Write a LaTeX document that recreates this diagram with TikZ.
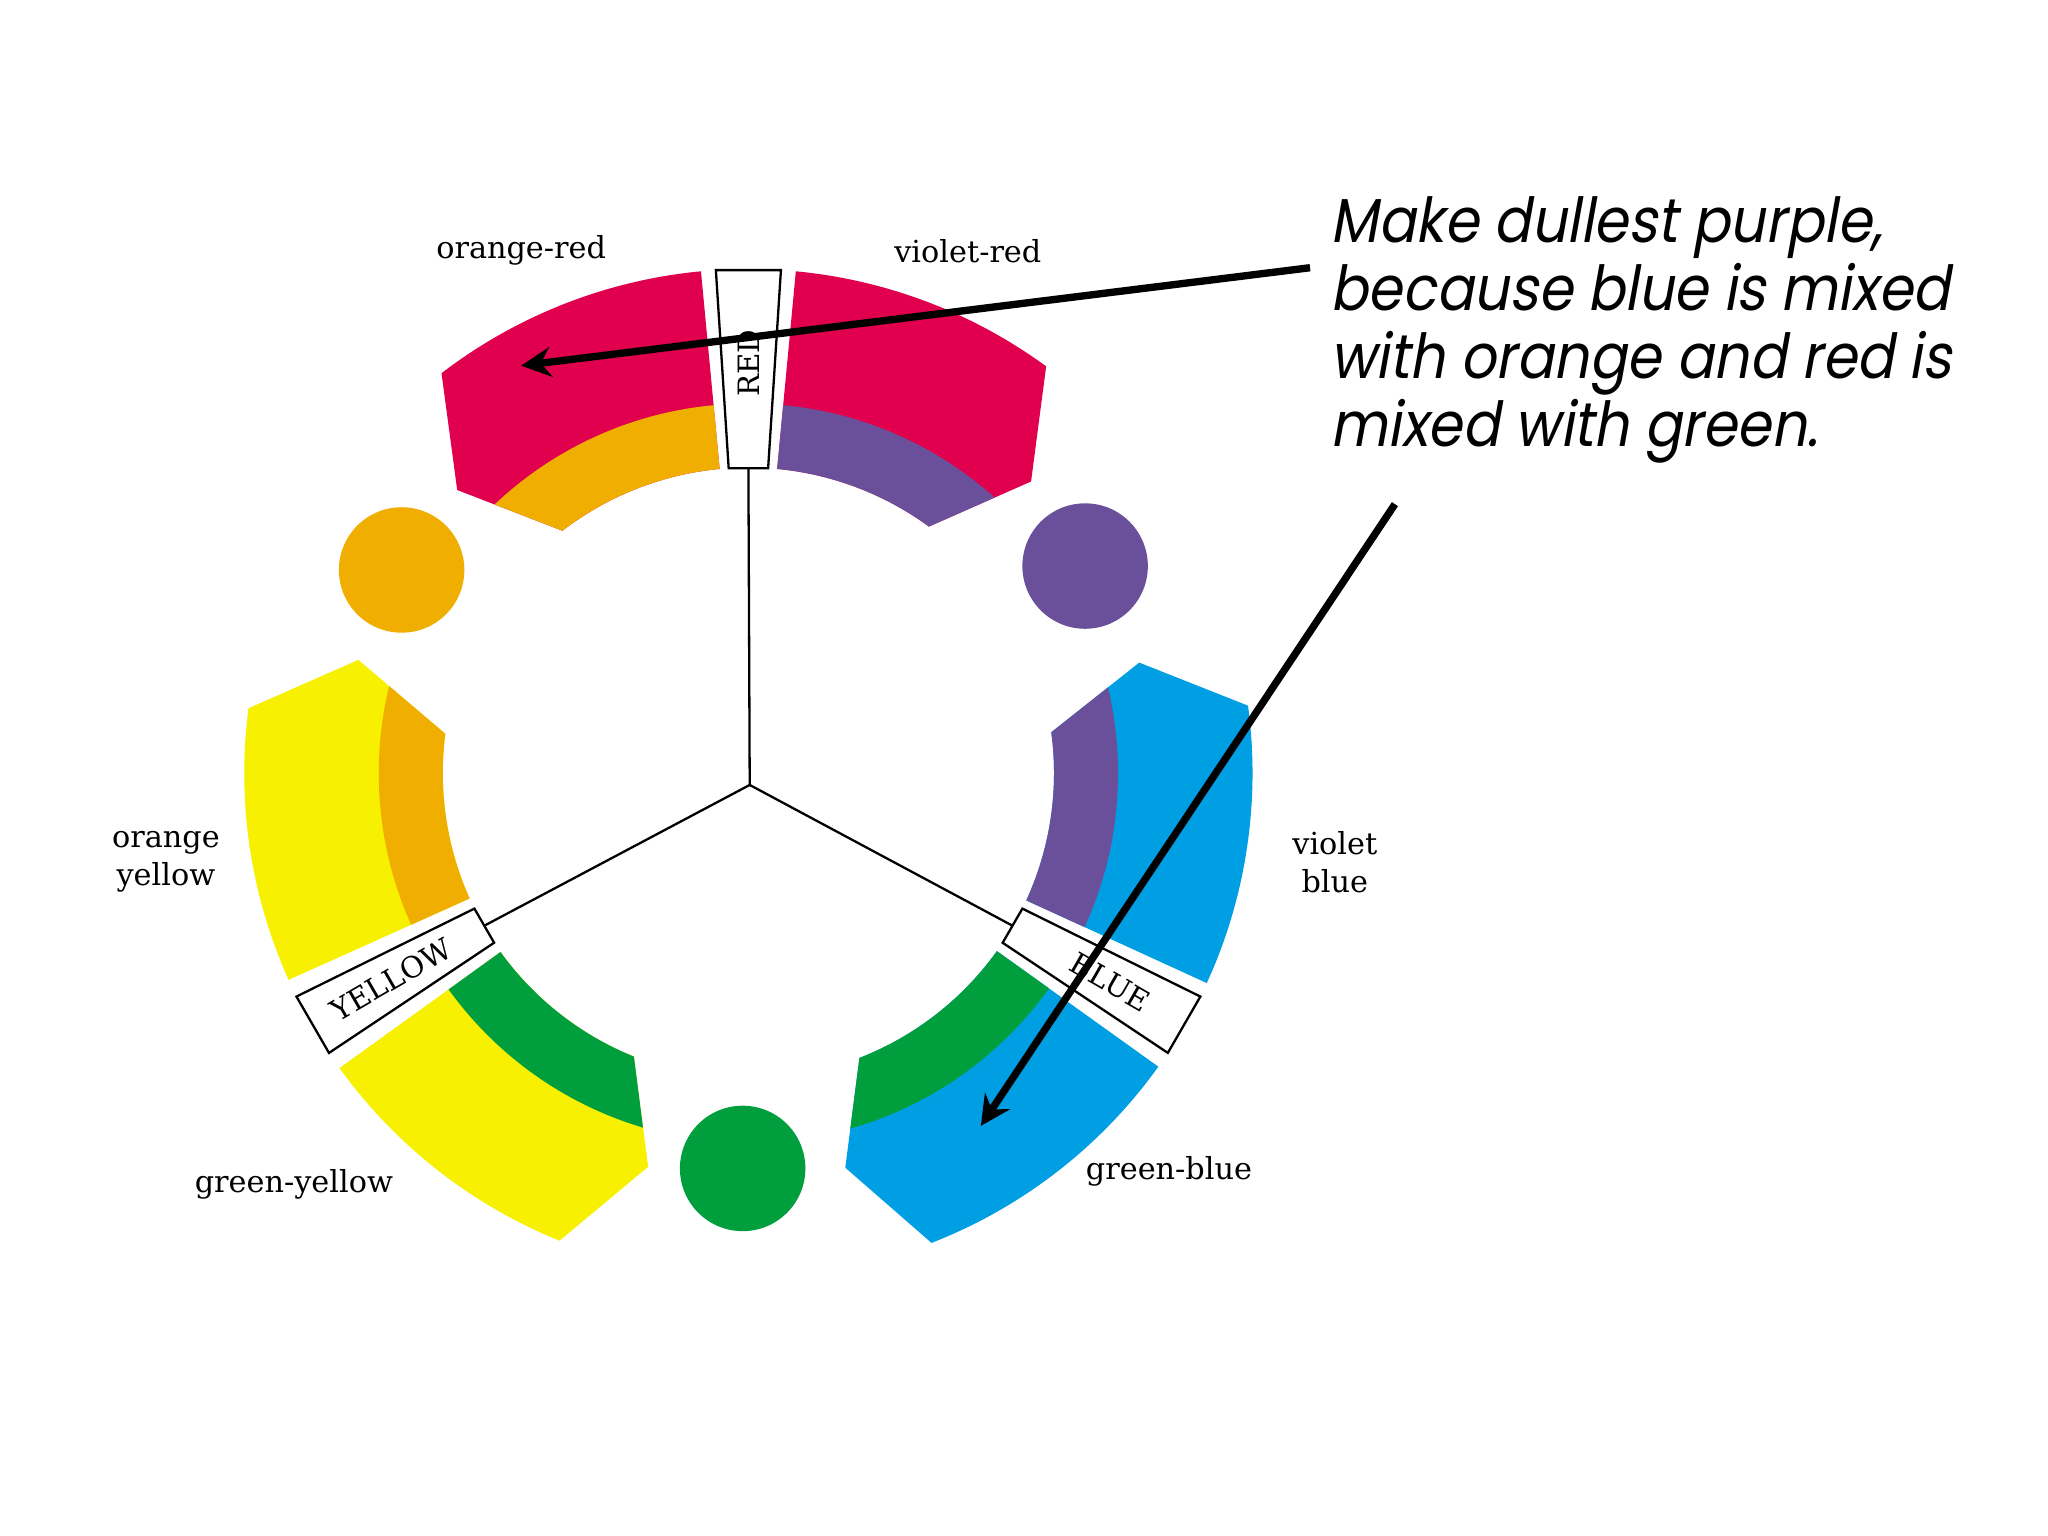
\documentclass[tikz,border=0pt]{standalone}
\usepackage{fontspec}
\setmainfont{DejaVu Serif}
\newfontfamily\gothic[FakeSlant=0.2]{Poppins}
\usetikzlibrary{arrows.meta}
\definecolor{cred}{RGB}{224,0,77}
\definecolor{corange}{RGB}{240,174,0}
\definecolor{cviolet}{RGB}{106,80,155}
\definecolor{cyellow}{RGB}{247,240,0}
\definecolor{cgreen}{RGB}{0,158,60}
\definecolor{cblue}{RGB}{0,159,227}
\newcommand\segpath[3]{(#1:386) arc[start angle=#1,end angle=#2,radius=386] -- (#3:311) -- (#2:234) arc[start angle=#2,end angle=#1,radius=234] -- cycle}
\newcommand\wedgebox[1]{({#1-3.7}:386) -- ({#1+3.7}:386) -- ({#1+3.7}:234) -- ({#1-3.7}:234) -- cycle}
\newcommand\seg[5]{%
  \fill[#4] \segpath{#1}{#2}{#3};
  \begin{scope}\clip \segpath{#1}{#2}{#3};
    \fill[#5] (0,0) circle[radius=283];
  \end{scope}}
\tikzset{
  lbl/.style={font=\fontsize{6.6}{8.3}\selectfont, align=center, inner sep=0},
  boxlbl/.style={font=\fontsize{6.4}{7.5}\selectfont, inner sep=0},
  boxshape/.style={draw=black, fill=white, line width=0.5pt},
  link/.style={draw=black, line width=0.5pt},
  note/.style={font=\gothic\fontsize{13.5}{15}\selectfont, anchor=base west, inner sep=0, xscale=0.895},
  pointer/.style={line width=1.6pt, -{Stealth[length=6.5pt,width=6.5pt,inset=2.2pt]}},
  dot/.style={circle, inner sep=0, minimum size=0.96cm}
}
\begin{document}
\begin{tikzpicture}[x=0.01cm,y=0.01cm]
\useasboundingbox (0,0) rectangle (1568,1176);
\fill[white] (0,0) rectangle (1568,1176);
\begin{scope}[shift={(573,584)}]
  % segments: gap angle, corner angle, apex angle, primary, secondary
  \seg{95.4}{127.5}{135.8}{cred}{corange}
  \seg{84.6}{53.8}{45.9}{cred}{cviolet}
  \seg{204.2}{172.6}{163.8}{cyellow}{corange}
  \seg{215.8}{248}{255.7}{cyellow}{cgreen}
  \seg{324.4}{291.3}{283.8}{cblue}{cgreen}
  \seg{-24.6}{7.7}{15.8}{cblue}{cviolet}
  % label boxes
  \path[boxshape] \wedgebox{90};
  \path[boxshape] \wedgebox{210};
  \path[boxshape] \wedgebox{330};
  \coordinate (redin) at (90:234);
  \coordinate (yellowin) at (210:234);
  \coordinate (bluein) at (330:234);
  \node[boxlbl, rotate=90] (redlbl) at (90:314) {RED};
  \node[boxlbl, rotate=30] (yellowlbl) at (210:316) {YELLOW};
  \node[boxlbl, rotate=-30] (bluelbl) at (330:320) {BLUE};
\end{scope}
\coordinate (J) at (574,575);
\draw[link] (J) -- (redin);
\draw[link] (J) -- (yellowin);
\draw[link] (J) -- (bluein);
% circles
\node[dot, fill=corange] (orangedot) at (307.5,739.6) {};
\node[dot, fill=cviolet] (violetdot) at (830.8,742.6) {};
\node[dot, fill=cgreen] (greendot) at (568.6,281.4) {};
% labels
\node[lbl] (lor) at (399,984) {orange-red};
\node[lbl] (lvr) at (741,984) {violet-red};
\node[lbl] (loy) at (127,516) {orange\\yellow};
\node[lbl] (lvb) at (1022,516) {violet\\blue};
\node[lbl] (lgy) at (225,269) {green-yellow};
\node[lbl] (lgb) at (895,279) {green-blue};
% note text
\node[note] (t1) at (1018,990) {Make dullest purple,};
\node[note] (t2) at (1018,938) {because blue is mixed};
\node[note] (t3) at (1018,886) {with orange and red is};
\node[note] (t4) at (1018,834) {mixed with green.};
% arrows
\coordinate (a1s) at (1003,971);
\coordinate (a1e) at (399,896);
\coordinate (a2s) at (1068,790);
\coordinate (a2e) at (751,314);
\draw[pointer] (a1s) -- (a1e);
\draw[pointer] (a2s) -- (a2e);
\end{tikzpicture}
\end{document}
